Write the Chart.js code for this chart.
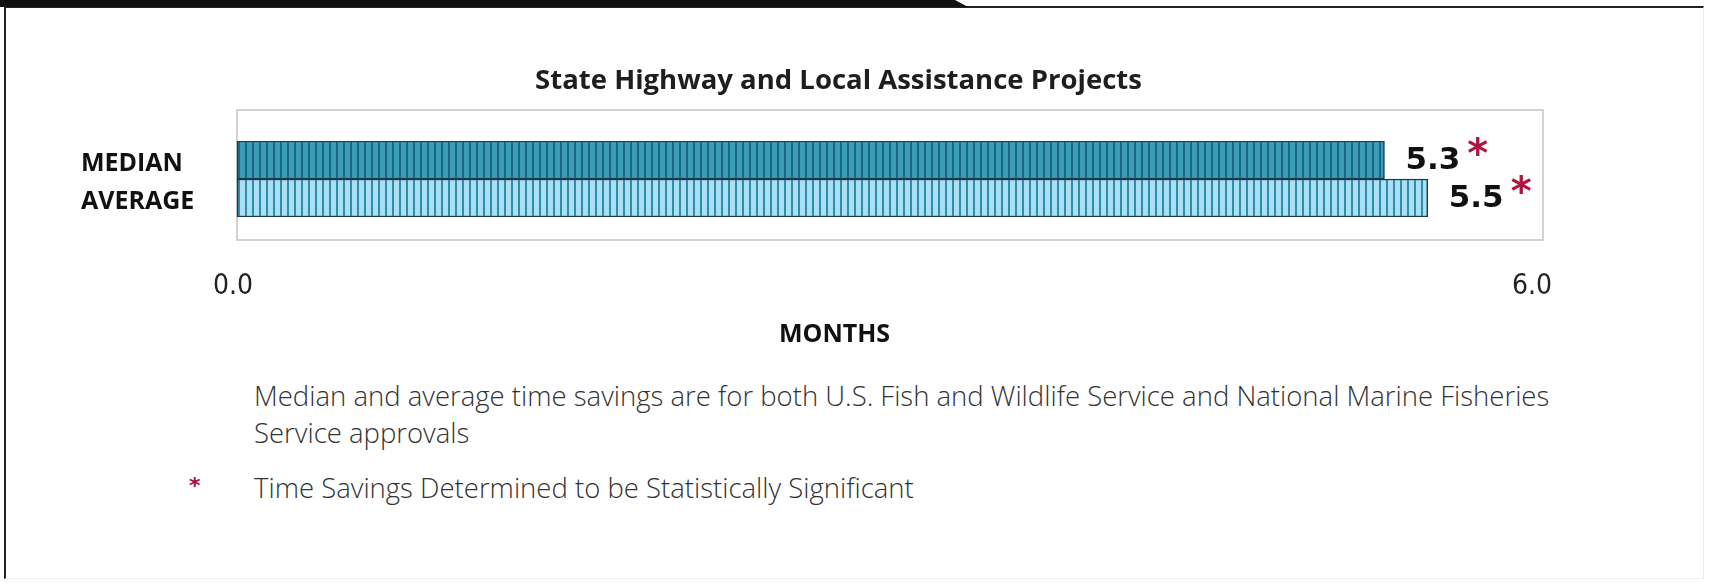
<!DOCTYPE html>
<html lang="en">
<head>
    <meta charset="UTF-8">
    <title>State Highway and Local Assistance Projects</title>
    <script src="https://cdn.jsdelivr.net/npm/chart.js"></script>
    <style>
        html, body {
            margin: 0;
            padding: 0;
            background: #ffffff;
        }
        .page {
            position: relative;
            width: 1717px;
            height: 583px;
            overflow: hidden;
            background: #ffffff;
        }
        /* black tab along the top edge */
        .tab {
            position: absolute;
            left: 0;
            top: 0;
            width: 968px;
            height: 7px;
            background: #111;
            clip-path: polygon(0 0, 955px 0, 968px 7px, 0 7px);
        }
        .frame {
            position: absolute;
            left: 4px;
            top: 6px;
            width: 1700px;
            height: 573px;
            border-left: 2px solid #222;
            border-top: 2px solid #222;
            border-right: 1px solid #ececec;
            border-bottom: 1px solid #eeeeee;
            box-sizing: border-box;
        }
        #chart {
            position: absolute;
            left: 0;
            top: 0;
        }
        .note {
            position: absolute;
            left: 254px;
            font-family: "Open Sans", sans-serif;
            font-weight: 300;
            font-size: 27.5px;
            line-height: 37px;
            color: #333;
            white-space: nowrap;
        }
        .star {
            position: absolute;
            left: 189px;
            font-family: "DejaVu Sans", sans-serif;
            font-weight: bold;
            font-size: 22px;
            line-height: 37px;
            color: #a8123f;
        }
    </style>
</head>
<body>
<div class="page">
    <div class="frame"></div>
    <div class="tab"></div>
    <canvas id="chart" width="1717" height="360"></canvas>
    <div class="note" style="top: 377px;">Median and average time savings are for both U.S. Fish and Wildlife Service and National Marine Fisheries<br>Service approvals</div>
    <div class="star" style="top: 467px;">*</div>
    <div class="note" style="top: 469px;">Time Savings Determined to be Statistically Significant</div>
</div>

<script>
    const categories = ['MEDIAN', 'AVERAGE'];
    const months = [5.3, 5.5];
    const significant = [true, true];
    const xTicks = [0, 6];

    // vertical hatching used as bar fill
    function stripes(base, line) {
        const c = document.createElement('canvas');
        c.width = 7;
        c.height = 10;
        const g = c.getContext('2d');
        g.fillStyle = base;
        g.fillRect(0, 0, 7, 10);
        g.fillStyle = line;
        g.fillRect(0, 0, 2, 10);
        return g.createPattern(c, 'repeat');
    }

    // both titles sit a little off the plot centre
    const titleShift = {
        id: 'titleShift',
        afterLayout(chart) {
            chart.titleBlock.left += 30;
            chart.titleBlock.right += 30;
            chart.scales.x.left -= 52;
            chart.scales.x.right -= 52;
        }
    };

    // light grey frame around the plot area
    const plotFrame = {
        id: 'plotFrame',
        beforeDatasetsDraw(chart) {
            const a = chart.chartArea;
            const ctx = chart.ctx;
            ctx.save();
            ctx.strokeStyle = '#c4c4c4';
            ctx.lineWidth = 1.5;
            ctx.strokeRect(a.left, a.top - 31, a.right - a.left + 7, a.bottom - a.top + 54);
            ctx.restore();
        }
    };

    // value at the end of each bar, with a red star when significant
    const barValues = {
        id: 'barValues',
        afterDatasetsDraw(chart) {
            const ctx = chart.ctx;
            const meta = chart.getDatasetMeta(0);
            ctx.save();
            meta.data.forEach((bar, i) => {
                const text = months[i].toFixed(1);
                const x = bar.x + 21;
                const y = bar.y + 1;
                ctx.font = 'bold 31px "DejaVu Sans"';
                ctx.fillStyle = '#111';
                ctx.textAlign = 'left';
                ctx.textBaseline = 'middle';
                ctx.fillText(text, x, y);
                if (significant[i]) {
                    const w = ctx.measureText(text).width;
                    ctx.font = 'bold 40px "DejaVu Sans"';
                    ctx.fillStyle = '#b0143f';
                    ctx.fillText('*', x + w + 7, y - 4);
                }
            });
            ctx.restore();
        }
    };

    new Chart(document.getElementById('chart').getContext('2d'), {
        type: 'bar',
        data: {
            labels: categories,
            datasets: [{
                data: months,
                backgroundColor: [stripes('#3b9cba', '#1b6783'), stripes('#a9e0f4', '#2f8cab')],
                borderColor: '#1a3a4c',
                borderWidth: 1.5,
                borderSkipped: false,
                barPercentage: 1,
                categoryPercentage: 1
            }]
        },
        options: {
            indexAxis: 'y',
            responsive: false,
            animation: false,
            layout: {
                padding: { left: 81, right: 181, top: 0, bottom: 3 }
            },
            plugins: {
                legend: { display: false },
                tooltip: { enabled: false },
                title: {
                    display: true,
                    text: 'State Highway and Local Assistance Projects',
                    color: '#1e1e1e',
                    font: { family: 'Open Sans', size: 27.5, weight: 'bold' },
                    padding: { top: 64.5, bottom: 43.5 }
                }
            },
            scales: {
                x: {
                    min: 0,
                    max: 6,
                    afterBuildTicks(scale) {
                        scale.ticks = xTicks.map(v => ({ value: v }));
                    },
                    afterFit(scale) {
                        scale.height = 140;
                    },
                    grid: { display: false, drawTicks: false },
                    border: { display: false },
                    ticks: {
                        padding: 53,
                        labelOffset: -4,
                        color: '#222',
                        font: { family: '"DejaVu Sans Condensed", Roboto, sans-serif', size: 28 },
                        callback: v => Number(v).toFixed(1)
                    },
                    title: {
                        display: true,
                        text: 'MONTHS',
                        color: '#111',
                        font: { family: 'Open Sans', size: 25, weight: 'bold' },
                        padding: { top: 0, bottom: 7 }
                    }
                },
                y: {
                    afterFit(scale) {
                        scale.width = 156;
                    },
                    grid: { display: false, drawTicks: false },
                    border: { display: false },
                    ticks: {
                        crossAlign: 'far',
                        labelOffset: 4,
                        color: '#111',
                        font: { family: 'Open Sans', size: 25, weight: 'bold' }
                    }
                }
            }
        },
        plugins: [titleShift, plotFrame, barValues]
    });
</script>
</body>
</html>
